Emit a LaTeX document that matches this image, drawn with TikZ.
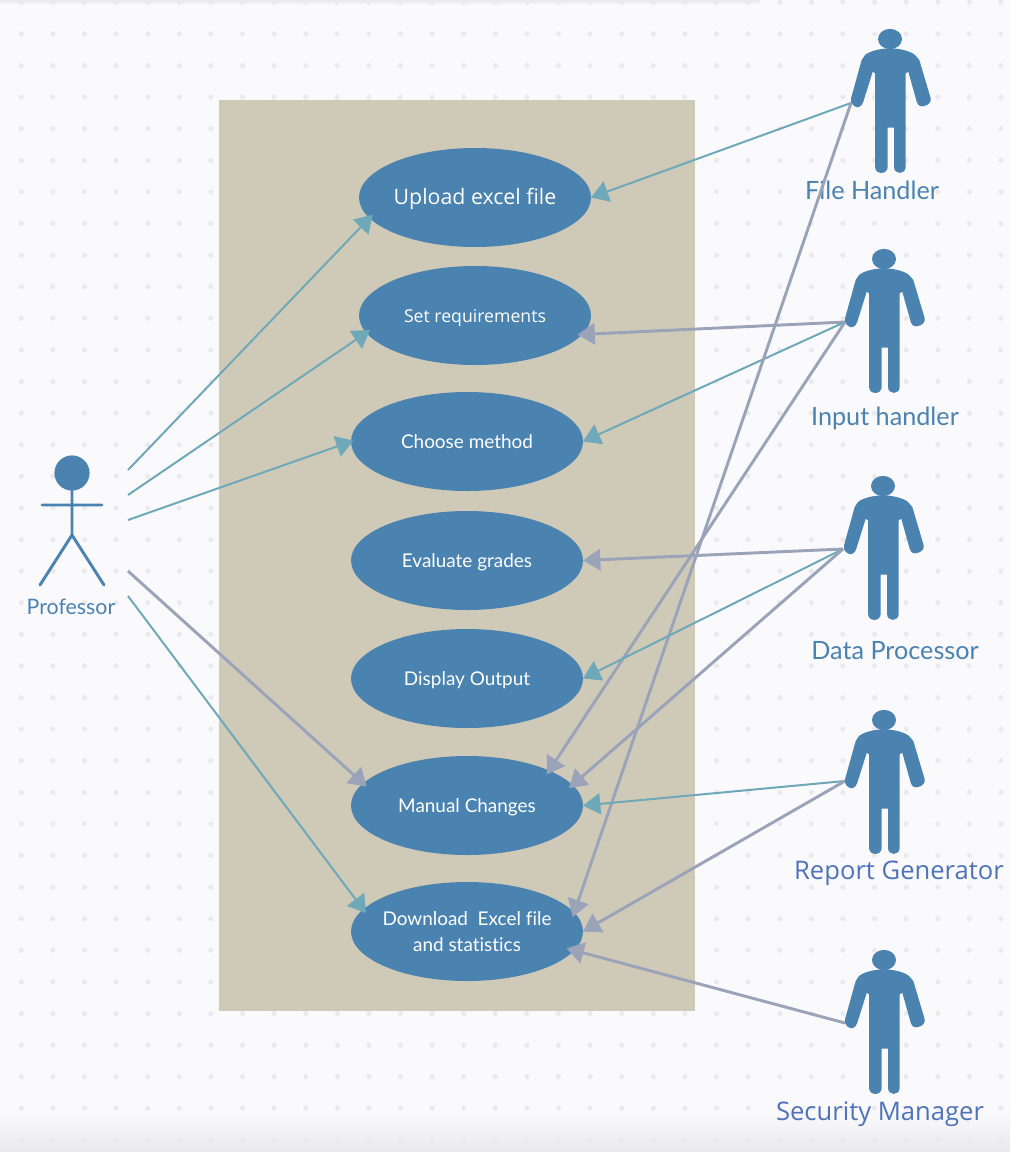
\documentclass[tikz,border=0pt]{standalone}
\usepackage{fontspec}
\usetikzlibrary{shapes.geometric,arrows.meta}
\setmainfont{Open Sans}
\newfontfamily\latofont[Ligatures=NoCommon]{Lato}
\definecolor{pagebg}{HTML}{FAFAFD}
\definecolor{griddot}{HTML}{EAEAEC}
\definecolor{panel}{HTML}{CFCAB8}
\definecolor{shapeblue}{HTML}{4A82B0}
\definecolor{tealline}{HTML}{6FA8B8}
\definecolor{greyline}{HTML}{9AA3B8}
\definecolor{labelblue}{HTML}{4F72B8}
\tikzset{
  x=0.75pt,y=-0.75pt,
  usecase/.style={ellipse,fill=shapeblue,draw=none,minimum width=174pt,minimum height=74.25pt,inner sep=0pt,outer sep=0pt,text=white,align=center,text height=10.9pt,text depth=1.1pt,font=\latofont\fontsize{14.2pt}{19.5pt}\selectfont},
  teal/.style={draw=tealline,line width=1.5pt,-{Triangle[length=13pt,width=16pt]}},
  grey/.style={draw=greyline,line width=2.2pt,-{Triangle[length=13pt,width=16pt]}},
  overlap/.style={shorten >=-3.5pt},
  actorlabel/.style={text=shapeblue,font=\latofont\fontsize{18.9pt}{20pt}\selectfont,inner sep=0pt},
  otherlabel/.style={text=labelblue,font=\fontsize{19.2pt}{20pt}\selectfont,inner sep=0pt},
  person/.pic={
    \fill[shapeblue] (0,0) ellipse [x radius=9pt,y radius=7.6pt];
    \fill[shapeblue] (0,9.3) .. controls (-10,9.5) and (-20,12) .. (-25,16)
      -- (-28.3,21) -- (-39,59.3) .. controls (-40.5,65) and (-34,69.5) .. (-31,68)
      .. controls (-29,67.5) and (-27.5,65) .. (-26.7,62.7) -- (-17.3,32.7) -- (-15,34.3)
      -- (-15,127.7) .. controls (-15,136) and (-2.3,136) .. (-2.3,127.7) -- (-2.3,88.7)
      -- (4,88.7) -- (4,127.7) .. controls (4,136) and (15.7,136) .. (15.7,127.7)
      -- (15.7,34.3) -- (18.3,32.7) -- (26.7,62.7)
      .. controls (28,67) and (31,68) .. (34,67) .. controls (38,66.5) and (41.5,63) .. (40.7,59.3)
      -- (29.3,21) -- (25,16) .. controls (20,12) and (10,9.5) .. (0,9.3) -- cycle;
  }
}
\begin{document}
\begin{tikzpicture}
\useasboundingbox (0,0) rectangle (1010,1152);
\fill[pagebg] (0,0) rectangle (1010,1152);
\fill[top color=pagebg,bottom color=griddot] (0,1110) rectangle (1010,1152);
\fill[top color=griddot,bottom color=pagebg] (0,0) rectangle (760,5);
\foreach \i in {0,...,31}{\foreach \j in {0,...,36}{
  \fill[griddot] (21.3+\i*31.6,2.3+\j*31.6) circle (1.9pt);}}
\node[fill=panel,minimum width=357pt,minimum height=683.25pt,inner sep=0pt,outer sep=0pt] (panelbox) at (457,555.5) {};

\node[usecase,text height=12.2pt,font=\fontsize{16pt}{18pt}\selectfont] (upload) at (475,197.5) {Upload excel file};
\node[usecase,font=\fontsize{13.25pt}{18pt}\selectfont] (setreq) at (475,315.5) {Set requirements};
\node[usecase] (choose) at (467,441.5) {Choose method};
\node[usecase] (evaluate) at (467,560.5) {Evaluate grades};
\node[usecase] (display) at (467,678.5) {Display Output};
\node[usecase] (manual) at (467,805.5) {Manual Changes};
\node[usecase,text height=,text depth=,inner xsep=-8pt,inner ysep=-4pt] (download) at (467,931.5) {Download~ Excel file\\and statistics};

% Professor
\fill[shapeblue] (72,473) circle (13.2pt);
\draw[shapeblue,line width=2.2pt,line cap=round] (72,473) -- (72,535) (42,505) -- (102,505) (40,585) -- (72,535) -- (104,585);
\node[actorlabel,font=\latofont\fontsize{16pt}{18pt}\selectfont] (professor) at (71,607) {Professor};
\coordinate (pa) at (128,470);
\coordinate (pb) at (128,495);
\coordinate (pc) at (128,520);
\coordinate (pd) at (128,571);
\coordinate (pe) at (128,596);

% People
\pic at (890,39) {person};
\pic at (884,259) {person};
\pic at (883,486) {person};
\pic at (884,720) {person};
\pic at (884,960) {person};
\node[actorlabel] (filehandler) at (872,190) {File Handler};
\node[actorlabel] (inputhandler) at (885,418) {Input handler};
\node[actorlabel] (dataprocessor) at (895,651) {Data Processor};
\node[otherlabel] (reportgen) at (899,873) {Report Generator};
\node[otherlabel] (security) at (880,1114) {Security Manager};
\coordinate (fh) at (851,103);
\coordinate (ih) at (845,322);
\coordinate (dp) at (843,549);
\coordinate (rg) at (845,781);
\coordinate (sm) at (845,1023);

% Connectors
\draw[teal,overlap] (pa) -- (upload.191.9);
\draw[teal,overlap] (pb) -- (setreq.189.7);
\draw[teal,shorten >=-2pt] (pc) -- (choose.180);
\draw[grey,overlap] (pd) -- (manual.168);
\draw[teal,overlap] (pe) -- (download.168);
\draw[teal] (fh) -- (upload.0);
\draw[grey,overlap] (ih) -- (setreq.-10);
\draw[teal] (ih) -- (choose.0);
\draw[grey,overlap] (ih) -- (manual.23.2);
\draw[grey,overlap] (fh) -- (download.10.6);
\draw[grey] (dp) -- (evaluate.0);
\draw[teal] (dp) -- (display.0);
\draw[grey,overlap] (dp) -- (manual.11.4);
\draw[teal] (rg) -- (manual.0);
\draw[grey] (rg) -- (download.0);
\draw[grey,shorten >=-6pt] (sm) -- (download.-10.3);
\end{tikzpicture}
\end{document}
